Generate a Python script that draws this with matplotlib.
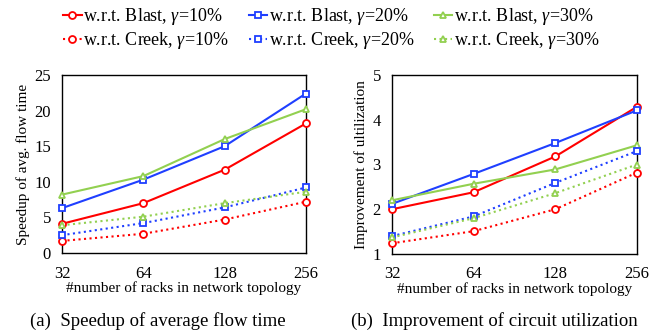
import matplotlib
matplotlib.use("Agg")
import matplotlib.pyplot as plt
from matplotlib.lines import Line2D

plt.rcParams['font.family'] = ['Liberation Serif', 'DejaVu Serif']
plt.rcParams['mathtext.fontset'] = 'custom'
plt.rcParams['mathtext.rm'] = 'Liberation Serif'
plt.rcParams['mathtext.it'] = 'Liberation Serif:italic'

racks = ["32", "64", "128", "256"]

speed_blast_10 = [4.1, 7.0, 11.7, 18.2]
speed_blast_20 = [6.3, 10.3, 15.0, 22.4]
speed_blast_30 = [8.2, 10.8, 16.0, 20.2]
speed_creek_10 = [1.7, 2.7, 4.7, 7.2]
speed_creek_20 = [2.5, 4.2, 6.4, 9.2]
speed_creek_30 = [3.9, 5.1, 7.0, 8.6]

util_blast_10 = [2.0, 2.38, 3.18, 4.29]
util_blast_20 = [2.12, 2.79, 3.48, 4.21]
util_blast_30 = [2.2, 2.57, 2.89, 3.43]
util_creek_10 = [1.24, 1.51, 2.0, 2.82]
util_creek_20 = [1.40, 1.84, 2.59, 3.30]
util_creek_30 = [1.37, 1.80, 2.36, 3.0]

RED = '#FF0000'
BLUE = '#1F3FFF'
GREEN = '#92D050'

labels = [r"w.r.t. Blast, $\gamma$=10%", r"w.r.t. Blast, $\gamma$=20%", r"w.r.t. Blast, $\gamma$=30%",
          r"w.r.t. Creek, $\gamma$=10%", r"w.r.t. Creek, $\gamma$=20%", r"w.r.t. Creek, $\gamma$=30%"]
styles = [(RED, 'o', '-'), (BLUE, 's', '-'), (GREEN, '^', '-'),
          (RED, 'o', ':'), (BLUE, 's', ':'), (GREEN, '^', ':')]

fig = plt.figure(figsize=(6.67, 3.33), dpi=100)
ax1 = fig.add_axes([62/667, 80/333, 244/667, 178/333])
ax2 = fig.add_axes([392/667, 79/333, 245/667, 179/333])

x = list(range(len(racks)))

def draw(ax, series, ylim, yticks, ylabel, xlabel, caption, cap_x):
    for (c, m, ls), ys in zip(styles, series):
        ax.plot(x, ys, color=c, marker=m, linestyle=ls, linewidth=1.5,
                markersize=5, markerfacecolor='white', markeredgecolor=c,
                markeredgewidth=1.3, clip_on=False, zorder=3)
    ax.set_xlim(0, 3)
    ax.set_ylim(*ylim)
    ax.set_yticks(yticks)
    ax.set_xticks(x)
    ax.set_xticklabels(racks)
    ax.tick_params(length=0, labelsize=12, pad=8)
    ax.tick_params(axis='x', pad=9)
    for s in ax.spines.values():
        s.set_linewidth(1.0)
        s.set_color('black')
    ax.set_ylabel(ylabel, fontsize=11, labelpad=3)
    ax.set_xlabel(xlabel, fontsize=11, labelpad=0)
    fig.text(cap_x / 667, 1 - 321 / 333, caption, ha='center', va='center', fontsize=13.5)

draw(ax1, [speed_blast_10, speed_blast_20, speed_blast_30, speed_creek_10, speed_creek_20, speed_creek_30],
     (0, 25), [0, 5, 10, 15, 20, 25], "Speedup of avg. flow time",
     "#number of racks in network topology", "(a)  Speedup of average flow time", 158)
draw(ax2, [util_blast_10, util_blast_20, util_blast_30, util_creek_10, util_creek_20, util_creek_30],
     (1, 5), [1, 2, 3, 4, 5], "Improvement of ultilization",
     "#number of racks in network topology", "(b)  Improvement of circuit utilization", 494)

handles = []
for c, m, ls in styles:
    handles.append(Line2D([], [], color=c, marker=m, linestyle=ls, linewidth=1.5, markersize=5,
                          markerfacecolor='white', markeredgecolor=c, markeredgewidth=1.3))
order = [0, 3, 1, 4, 2, 5]
fig.legend([handles[i] for i in order], [labels[i] for i in order], ncol=3,
           loc='upper center', bbox_to_anchor=(0.497, 1.03), frameon=False, fontsize=13,
           handlelength=1.0, handletextpad=0.1, columnspacing=1.1, labelspacing=0.15)

fig.savefig("out.png", dpi=100)
